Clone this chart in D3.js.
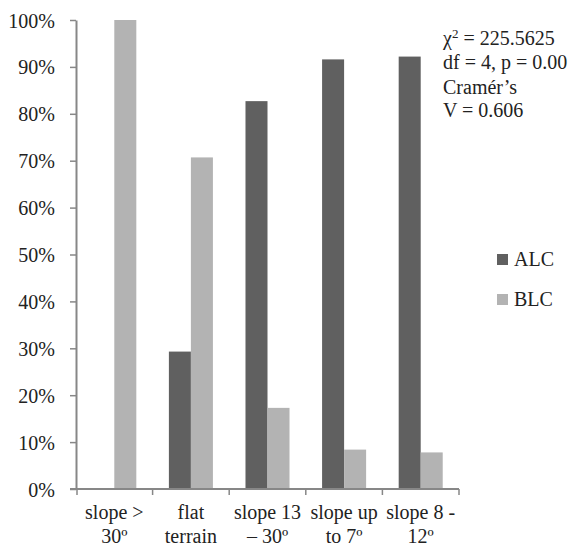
<!DOCTYPE html>
<html>
<head>
<meta charset="utf-8">
<script src="https://cdn.jsdelivr.net/npm/d3@7"></script>
<style>
  body { margin: 0; background: #fff; }
  svg text { font-family: "Liberation Serif", "Times New Roman", Times, serif; fill: #222; }
</style>
</head>
<body>
<div id="main"></div>
<script>
var categories = [["slope >", "30º"], ["flat", "terrain"], ["slope 13", "– 30º"], ["slope up", "to 7º"], ["slope 8 -", "12º"]];
var series = ["ALC", "BLC"];
var alcValues = [0, 29.3, 82.7, 91.6, 92.2];
var blcValues = [100, 70.7, 17.3, 8.4, 7.8];
var yTicks = [0, 10, 20, 30, 40, 50, 60, 70, 80, 90, 100];
var statsLines = ["= 225.5625", "df = 4, p =  0.00", "Cramér’s", "V = 0.606"];

var serif = "'Liberation Serif', 'Times New Roman', serif";
var colors = { ALC: "#606060", BLC: "#b3b3b3" };
var axisColor = "#878787";

var svg = d3.select("#main").append("svg")
    .attr("width", 580)
    .attr("height", 547)
    .attr("font-family", serif);

var x0 = d3.scaleBand()
    .domain(d3.range(categories.length))
    .range([76, 459]);

var x1 = d3.scaleBand()
    .domain(series)
    .range([0, x0.bandwidth()])
    .paddingInner(0)
    .paddingOuter(0.74);

var y = d3.scaleLinear()
    .domain([0, 100])
    .range([489, 20]);

var rows = categories.map(function(c, i) {
  return { i: i, ALC: alcValues[i], BLC: blcValues[i] };
});

// bars
var groups = svg.append("g").selectAll("g")
    .data(rows)
    .enter()
    .append("g")
    .attr("transform", function(d) { return "translate(" + x0(d.i) + ",0)"; });

groups.selectAll("rect")
    .data(function(d) { return series.map(function(s) { return { key: s, value: d[s] }; }); })
    .enter()
    .append("rect")
    .attr("x", function(d) { return x1(d.key); })
    .attr("width", x1.bandwidth())
    .attr("y", function(d) { return y(d.value); })
    .attr("height", function(d) { return y(0) - y(d.value); })
    .attr("fill", function(d) { return colors[d.key]; });

// y axis
var yAxis = svg.append("g")
    .attr("transform", "translate(76,0)")
    .call(d3.axisLeft(y).tickValues(yTicks).tickSize(6).tickSizeOuter(0)
      .tickFormat(function(d) { return d + "%"; }));
yAxis.attr("font-family", serif).attr("font-size", 20);
yAxis.select(".domain").attr("stroke", axisColor).attr("stroke-width", 2);
yAxis.selectAll(".tick line").attr("stroke", axisColor).attr("stroke-width", 1.5);
yAxis.selectAll(".tick text")
    .attr("x", -21)
    .attr("dy", "0.35em")
    .attr("fill", "#222");

// x axis with ticks on category boundaries
var xAxis = svg.append("g");
xAxis.append("line")
    .attr("x1", 70).attr("x2", x0.range()[1])
    .attr("y1", y(0)).attr("y2", y(0))
    .attr("stroke", axisColor).attr("stroke-width", 2);
xAxis.selectAll(".xtick")
    .data(d3.range(categories.length + 1))
    .enter()
    .append("line")
    .attr("x1", function(d) { return x0.range()[0] + d * x0.step() + (d === 0 ? 1 : 0); })
    .attr("x2", function(d) { return x0.range()[0] + d * x0.step() + (d === 0 ? 1 : 0); })
    .attr("y1", y(0)).attr("y2", y(0) + 6)
    .attr("stroke", axisColor).attr("stroke-width", 1.5);

var labels = svg.append("g").selectAll("text")
    .data(categories)
    .enter()
    .append("text")
    .attr("text-anchor", "middle")
    .attr("font-size", 20);
labels.selectAll("tspan")
    .data(function(d, i) { return d.map(function(t) { return { t: t, i: i }; }); })
    .enter()
    .append("tspan")
    .attr("x", function(d) { return x0(d.i) + x0.bandwidth() / 2; })
    .attr("y", function(d, j) { return 519 + j * 24; })
    .text(function(d) { return d.t; });

// legend
var legend = svg.append("g").selectAll("g")
    .data(series)
    .enter()
    .append("g")
    .attr("transform", function(d, i) { return "translate(497," + (254 + i * 40) + ")"; });
legend.append("rect")
    .attr("width", 11).attr("height", 11)
    .attr("fill", function(d) { return colors[d]; });
legend.append("text")
    .attr("x", 17).attr("y", 12)
    .attr("font-size", 20)
    .text(function(d) { return d; });

// stats text box
var stats = svg.append("text")
    .attr("font-size", 20);
var statsY = [45, 69, 94, 117];
var first = stats.append("tspan").attr("x", 443).attr("y", statsY[0]);
first.append("tspan").text("χ");
first.append("tspan").attr("dy", -7).attr("font-size", 13).text("2");
first.append("tspan").attr("dy", 7).text(" " + statsLines[0]);
statsLines.slice(1).forEach(function(line, i) {
  stats.append("tspan").attr("x", 443).attr("y", statsY[i + 1]).text(line);
});
</script>
</body>
</html>
